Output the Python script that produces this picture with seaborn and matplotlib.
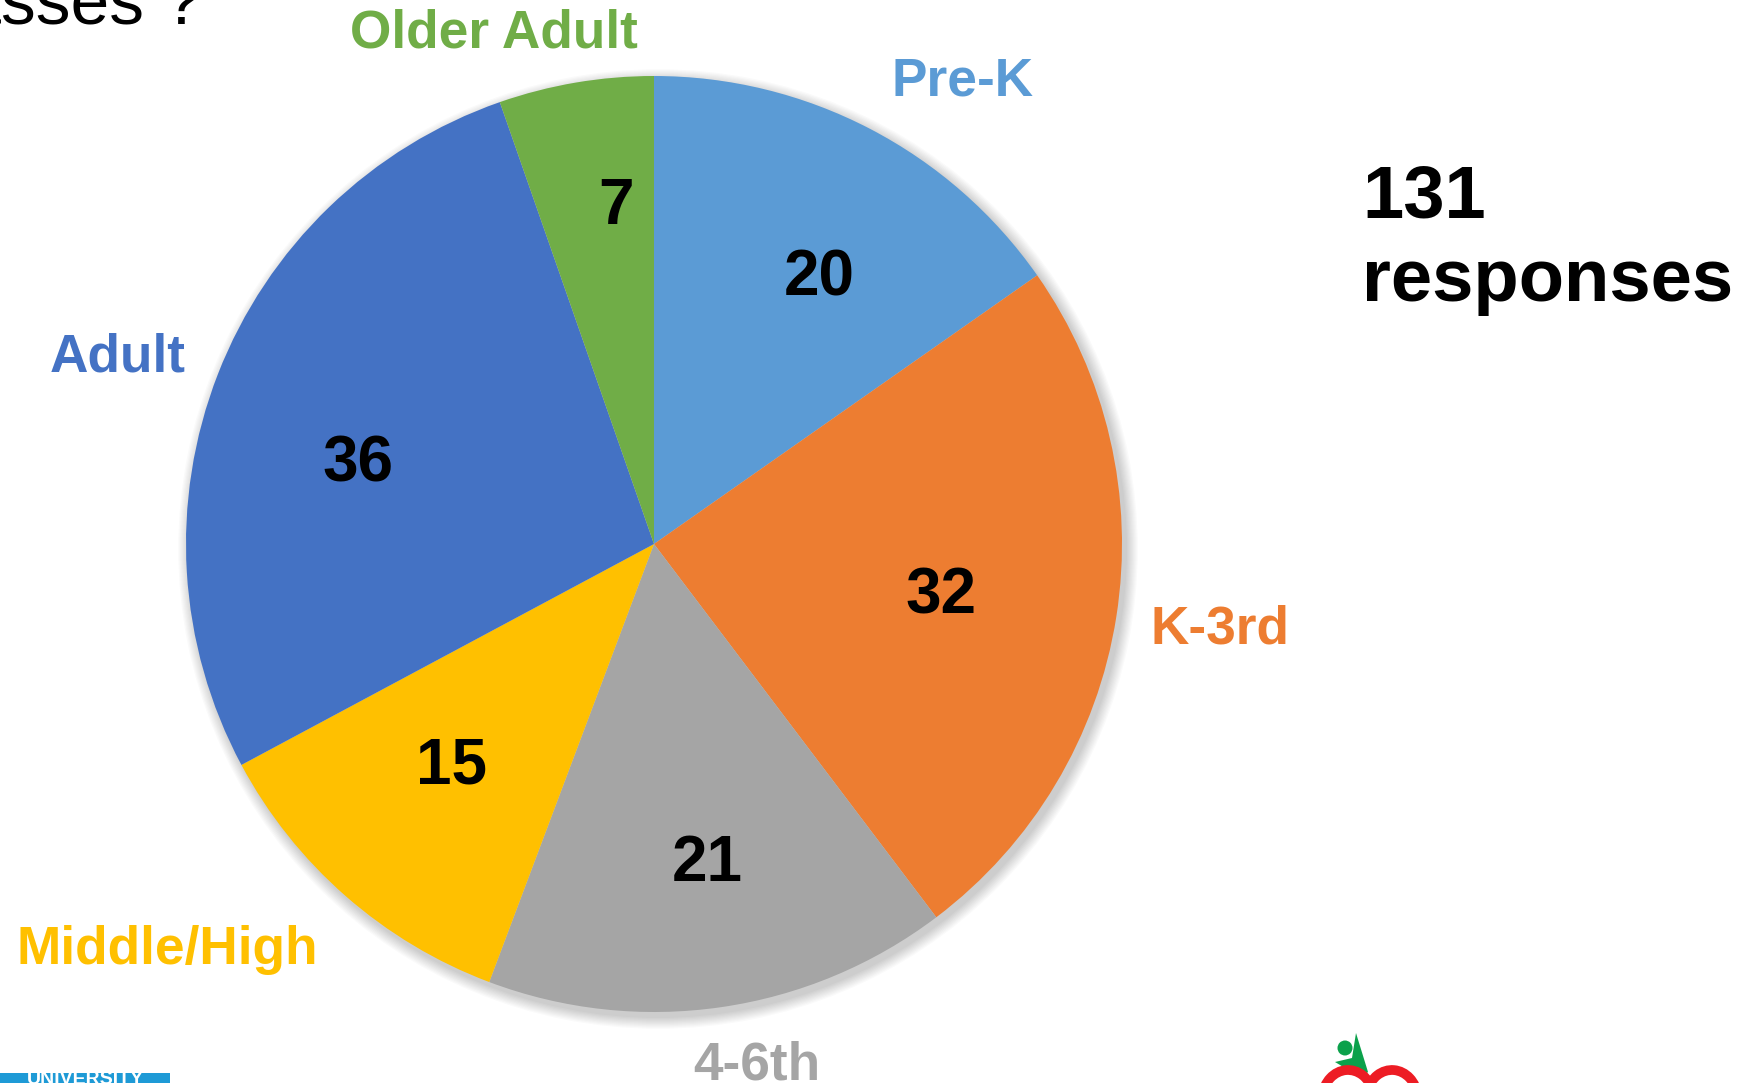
import matplotlib
matplotlib.use("Agg")
import matplotlib.pyplot as plt
import seaborn as sns
from matplotlib.patches import Circle, Rectangle, Polygon, Arc

categories = ["Pre-K", "K-3rd", "4-6th", "Middle/High", "Adult", "Older Adult"]
counts = [20, 32, 21, 15, 36, 7]
colors = ["#5B9BD5", "#ED7D31", "#A5A5A5", "#FFC000", "#4472C4", "#70AD47"]
total_number = "131"
total_word = "responses"

sns.set_theme(style="white")
plt.rcParams['font.family'] = ['Liberation Sans', 'DejaVu Sans']

W, H = 1747, 1083
fig = plt.figure(figsize=(W / 100, H / 100), dpi=100)
ax = fig.add_axes([0, 0, 1, 1])

cx, cy, R = 654, H - 544, 468

# soft shadow
for i in range(10):
    ax.add_patch(Circle((cx + 4, cy - 5), R + 1 + i * 1.2, color="black",
                        alpha=0.018, lw=0, zorder=1))

wedges, _ = ax.pie(counts, colors=colors, startangle=90, counterclock=False,
                   center=(cx, cy), radius=R, frame=True,
                   wedgeprops=dict(linewidth=0, zorder=2))
ax.set_xlim(0, W)
ax.set_ylim(0, H)
ax.set_aspect('equal')
ax.axis('off')

label_pos = {
    "Pre-K": (963, 81),
    "K-3rd": (1220, 629),
    "4-6th": (757, 1065),
    "Middle/High": (167, 950),
    "Adult": (118, 357),
    "Older Adult": (494, 33),
}
value_pos = {
    "Pre-K": (819, 279),
    "K-3rd": (941, 596),
    "4-6th": (707, 864),
    "Middle/High": (452, 767),
    "Adult": (358, 465),
    "Older Adult": (616, 207),
}
for cat, val, col in zip(categories, counts, colors):
    lx, ly = label_pos[cat]
    ax.text(lx, H - ly, cat, color=col, fontsize=38.3, fontweight='bold',
            ha='center', va='center', zorder=5)
    vx, vy = value_pos[cat]
    ax.text(vx, H - vy, str(val), color='black', fontsize=46, fontweight='bold',
            ha='center', va='center', zorder=5)

ax.text(1362, H - 217, total_number, color='black', fontsize=53.5, fontweight='bold',
        ha='left', va='baseline', zorder=5)
ax.text(1362, H - 301, total_word, color='black', fontsize=53.5, fontweight='bold',
        ha='left', va='baseline', zorder=5)

# partial slide title at top-left
ax.text(202, H - 24, "classes ?", color='black', fontsize=50, ha='right',
        va='baseline', zorder=5)

# partial logos at the bottom
ax.add_patch(Rectangle((0, 0), 170, H - 1073, color="#1E9AD6", lw=0, zorder=5))
ax.text(85, H - 1088, "UNIVERSITY", color='white', fontsize=14, fontweight='bold',
        ha='center', va='bottom', zorder=6, clip_on=True)
ax.add_patch(Circle((1345, H - 1048), 7.5, color="#0BA14B", lw=0, zorder=5))
ax.add_patch(Polygon([(1335, H - 1062), (1352, H - 1058), (1356, H - 1033),
                      (1368, H - 1072), (1362, H - 1078)],
                     closed=True, color="#0BA14B", lw=0, zorder=5))
ax.add_patch(Arc((1348, H - 1100), 52, 60, theta1=20, theta2=170,
                 color="#ED1C24", lw=7, zorder=5))
ax.add_patch(Arc((1392, H - 1100), 52, 60, theta1=10, theta2=160,
                 color="#ED1C24", lw=7, zorder=5))

fig.savefig("out.png", dpi=100)
